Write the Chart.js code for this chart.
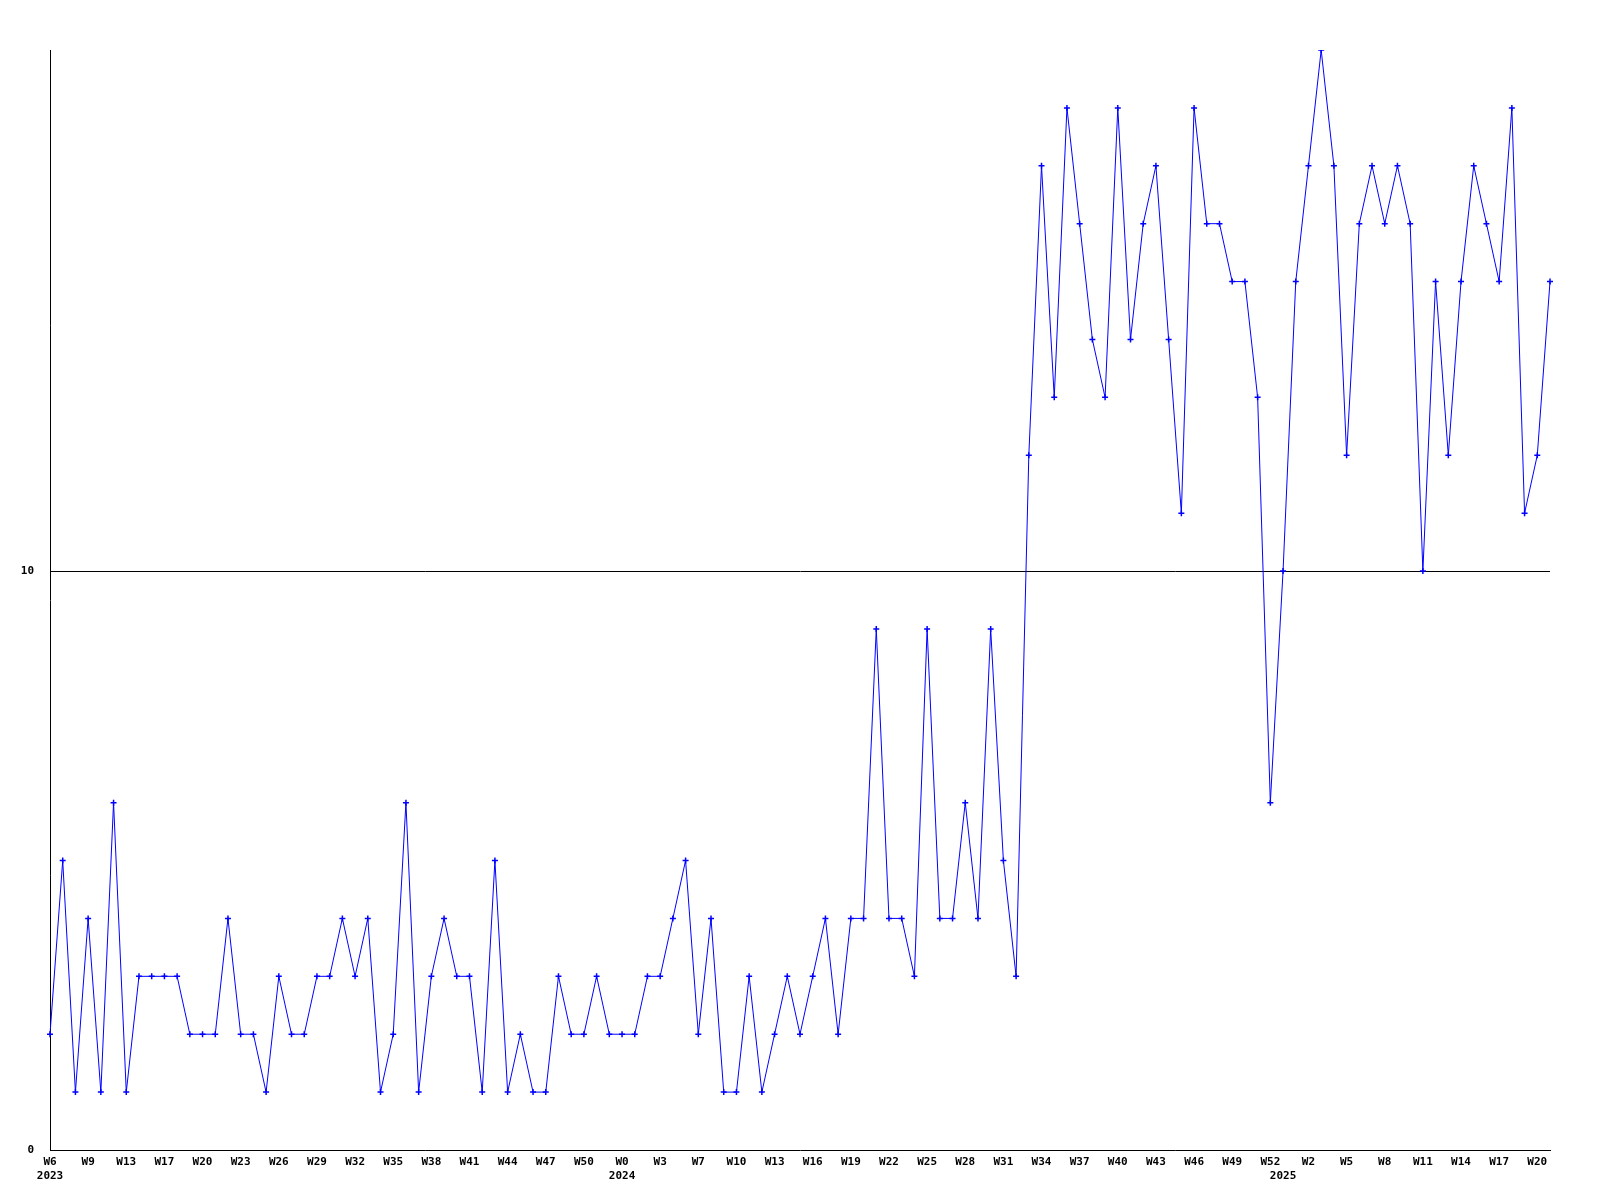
<!DOCTYPE html>
<html>
<head>
<meta charset="utf-8">
<script src="https://cdn.jsdelivr.net/npm/chart.js@4/dist/chart.umd.min.js"></script>
<style>
  html, body { margin: 0; padding: 0; background: #fff; }
  #wrap { width: 1600px; height: 1200px; position: relative; }
</style>
</head>
<body>
<div id="wrap"><canvas id="c" width="1600" height="1200"></canvas></div>
<script>
// Visible week tick labels (one every third weekly point)
const tickLabels = ['W6','W9','W13','W17','W20','W23','W26','W29','W32','W35','W38','W41','W44','W47','W50',
  'W0','W3','W7','W10','W13','W16','W19','W22','W25','W28','W31','W34','W37','W40','W43','W46','W49','W52',
  'W2','W5','W8','W11','W14','W17','W20'];
// Year captions and the weekly point where each year begins
const years = ['2023','2024','2025'];
const yearStartIndex = [0, 45, 97];

// Weekly values
const values = [
  2,5,1,4,1,6,1,3,3,3,3,2,2,2,4,2,2,1,3,2,
  2,3,3,4,3,4,1,2,6,1,3,4,3,3,1,5,1,2,1,1,
  3,2,2,3,2,2,2,3,3,4,5,2,4,1,1,3,1,2,3,2,
  3,4,2,4,4,9,4,4,3,9,4,4,6,4,9,5,3,12,17,13,
  18,16,14,13,18,14,16,17,14,11,18,16,16,15,15,13,6,10,15,17,
  19,17,12,16,17,16,17,16,10,15,12,15,17,16,15,18,11,12,15
];

const categories = values.map((v, i) => {
  const main = (i % 3 === 0 && tickLabels[i / 3] !== undefined) ? tickLabels[i / 3] : '';
  const yi = yearStartIndex.indexOf(i);
  return yi >= 0 ? [main, years[yi]] : main;
});

const FONT = { family: "'DejaVu Sans Mono', monospace", size: 11, weight: 'bold' };

const whiteBg = {
  id: 'whiteBg',
  beforeDraw(chart) {
    const ctx = chart.ctx;
    ctx.save();
    ctx.fillStyle = '#ffffff';
    ctx.fillRect(0, 0, chart.width, chart.height);
    ctx.restore();
  }
};

new Chart(document.getElementById('c'), {
  type: 'line',
  data: {
    labels: categories,
    datasets: [{
      data: values,
      borderColor: '#0000ff',
      backgroundColor: '#0000ff',
      borderWidth: 1,
      tension: 0,
      fill: false,
      pointStyle: 'cross',
      pointRadius: 3,
      pointBorderWidth: 1.5,
      pointBorderColor: '#0000ff',
      pointBackgroundColor: '#0000ff'
    }]
  },
  options: {
    responsive: false,
    animation: false,
    devicePixelRatio: 1,
    layout: { padding: { top: 50, right: 50, left: 0, bottom: 0 } },
    plugins: { legend: { display: false }, tooltip: { enabled: false } },
    scales: {
      x: {
        type: 'category',
        offset: false,
        grid: { display: false, drawTicks: false },
        border: { display: true, color: '#000000', width: 1 },
        ticks: {
          autoSkip: false,
          maxRotation: 0,
          minRotation: 0,
          padding: 6,
          color: '#000000',
          font: FONT
        },
        afterFit(scale) { scale.height = 50; }
      },
      y: {
        min: 0,
        max: 19,
        grid: {
          drawTicks: false,
          color: ctx => (ctx.tick && ctx.tick.value === 10) ? '#000000' : 'rgba(0,0,0,0)',
          lineWidth: 1
        },
        border: { display: true, color: '#000000', width: 1 },
        ticks: {
          stepSize: 10,
          includeBounds: false,
          padding: 16,
          color: '#000000',
          font: FONT
        },
        afterFit(scale) { scale.width = 50; }
      }
    }
  },
  plugins: [whiteBg]
});
</script>
</body>
</html>
